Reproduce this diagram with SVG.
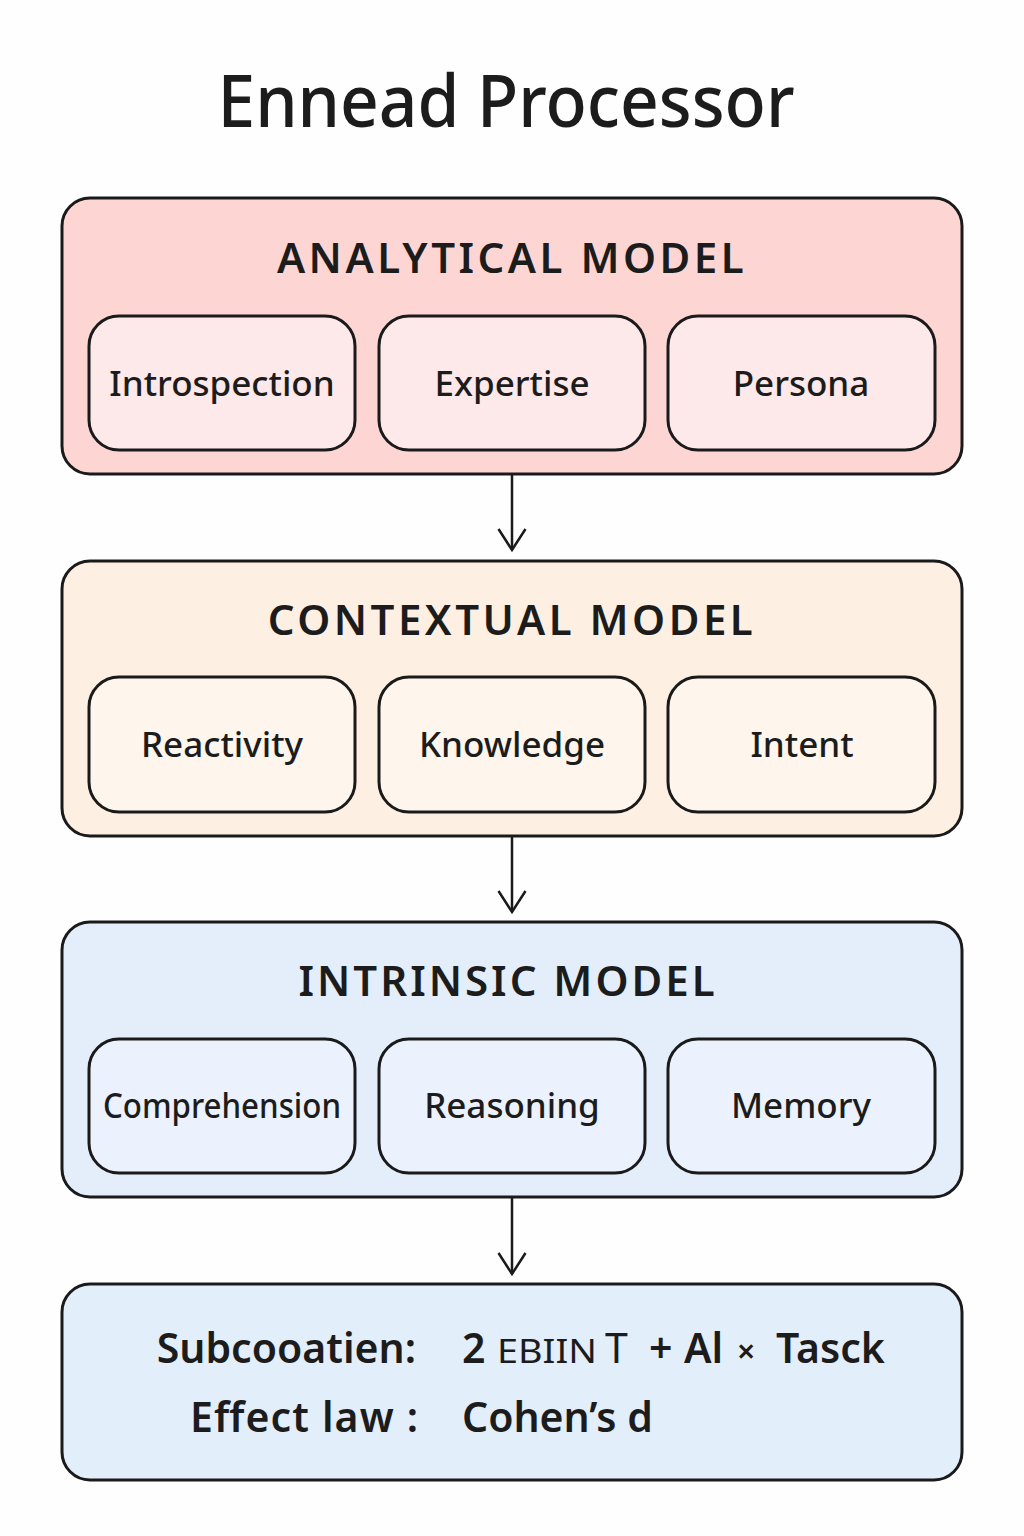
<svg xmlns="http://www.w3.org/2000/svg" width="1024" height="1536" viewBox="0 0 1024 1536">
<defs>
<style>
text{font-family:"Noto Sans","Open Sans","Liberation Sans",sans-serif;fill:#1c1c1c}
.title{font-size:72px;font-weight:500;text-anchor:middle}
.hdr{font-size:42px;font-weight:600;text-anchor:middle;letter-spacing:3.5px}
.lbl{font-size:35px;font-weight:500;text-anchor:middle}
.outer{stroke:#1a1a1a;stroke-width:3}
.inner{stroke:#1a1a1a;stroke-width:3}
.conn{stroke:#1a1a1a;stroke-width:2.5;fill:none}
.bt{font-size:41px;font-weight:600}
</style>
<marker id="arr" viewBox="0 0 26 30" refX="23" refY="15" markerWidth="26" markerHeight="30" markerUnits="userSpaceOnUse" orient="auto">
<path d="M2 1.5 L23 15 L2 28.5" fill="none" stroke="#1a1a1a" stroke-width="2.5"/>
</marker>
</defs>
<rect width="1024" height="1536" fill="#fefefe"/>
<text class="title" x="506" y="127" textLength="577" lengthAdjust="spacingAndGlyphs">Ennead Processor</text>

<g id="analytical">
<rect class="outer" x="62" y="198" width="900" height="276" rx="28" fill="#fdd6d4"/>
<text class="hdr" x="512" y="273">ANALYTICAL MODEL</text>
</g>
<g id="introspection"><rect class="inner" x="89" y="316" width="266" height="134" rx="30" fill="#fde8ea"/><text class="lbl" x="222" y="396">Introspection</text></g>
<g id="expertise"><rect class="inner" x="379" y="316" width="266" height="134" rx="30" fill="#fde8ea"/><text class="lbl" x="512" y="396">Expertise</text></g>
<g id="persona"><rect class="inner" x="668" y="316" width="267" height="134" rx="30" fill="#fde8ea"/><text class="lbl" x="801" y="396">Persona</text></g>

<g id="contextual">
<rect class="outer" x="62" y="561" width="900" height="275" rx="28" fill="#fdf0e2"/>
<text class="hdr" x="512" y="635">CONTEXTUAL MODEL</text>
</g>
<g id="reactivity"><rect class="inner" x="89" y="677" width="266" height="135" rx="30" fill="#fef6ec"/><text class="lbl" x="222" y="757">Reactivity</text></g>
<g id="knowledge"><rect class="inner" x="379" y="677" width="266" height="135" rx="30" fill="#fef6ec"/><text class="lbl" x="512" y="757">Knowledge</text></g>
<g id="intent"><rect class="inner" x="668" y="677" width="267" height="135" rx="30" fill="#fef6ec"/><text class="lbl" x="802" y="757">Intent</text></g>

<g id="intrinsic">
<rect class="outer" x="62" y="922" width="900" height="275" rx="28" fill="#e4eefb"/>
<text class="hdr" x="508" y="996" style="letter-spacing:3px">INTRINSIC MODEL</text>
</g>
<g id="comprehension"><rect class="inner" x="89" y="1039" width="266" height="134" rx="30" fill="#ebf2fd"/><text class="lbl" x="222" y="1118" textLength="238" lengthAdjust="spacingAndGlyphs">Comprehension</text></g>
<g id="reasoning"><rect class="inner" x="379" y="1039" width="266" height="134" rx="30" fill="#ebf2fd"/><text class="lbl" x="512" y="1118">Reasoning</text></g>
<g id="memory"><rect class="inner" x="668" y="1039" width="267" height="134" rx="30" fill="#ebf2fd"/><text class="lbl" x="801" y="1118">Memory</text></g>

<g id="summary">
<rect class="outer" x="62" y="1284" width="900" height="196" rx="28" fill="#e3eefb"/>
<text class="bt" x="416" y="1363" text-anchor="end">Subcooatien:</text>
<text class="bt" x="190" y="1432" textLength="228" lengthAdjust="spacing">Effect law :</text>
<text class="bt" y="1363"><tspan x="462">2</tspan><tspan x="497" font-size="33" font-weight="400" textLength="100" lengthAdjust="spacingAndGlyphs">EBIIN</tspan><tspan x="605" font-weight="400">T</tspan><tspan x="649">+</tspan><tspan x="684">Al</tspan><tspan x="737" font-size="32">×</tspan><tspan x="776">Tasck</tspan></text>
<text class="bt" x="462" y="1432">Cohen’s d</text>
</g>

<g id="connectors">
<line class="conn" x1="512" y1="474" x2="512" y2="550" marker-end="url(#arr)"/>
<line class="conn" x1="512" y1="836" x2="512" y2="912" marker-end="url(#arr)"/>
<line class="conn" x1="512" y1="1197" x2="512" y2="1274" marker-end="url(#arr)"/>
</g>
</svg>
